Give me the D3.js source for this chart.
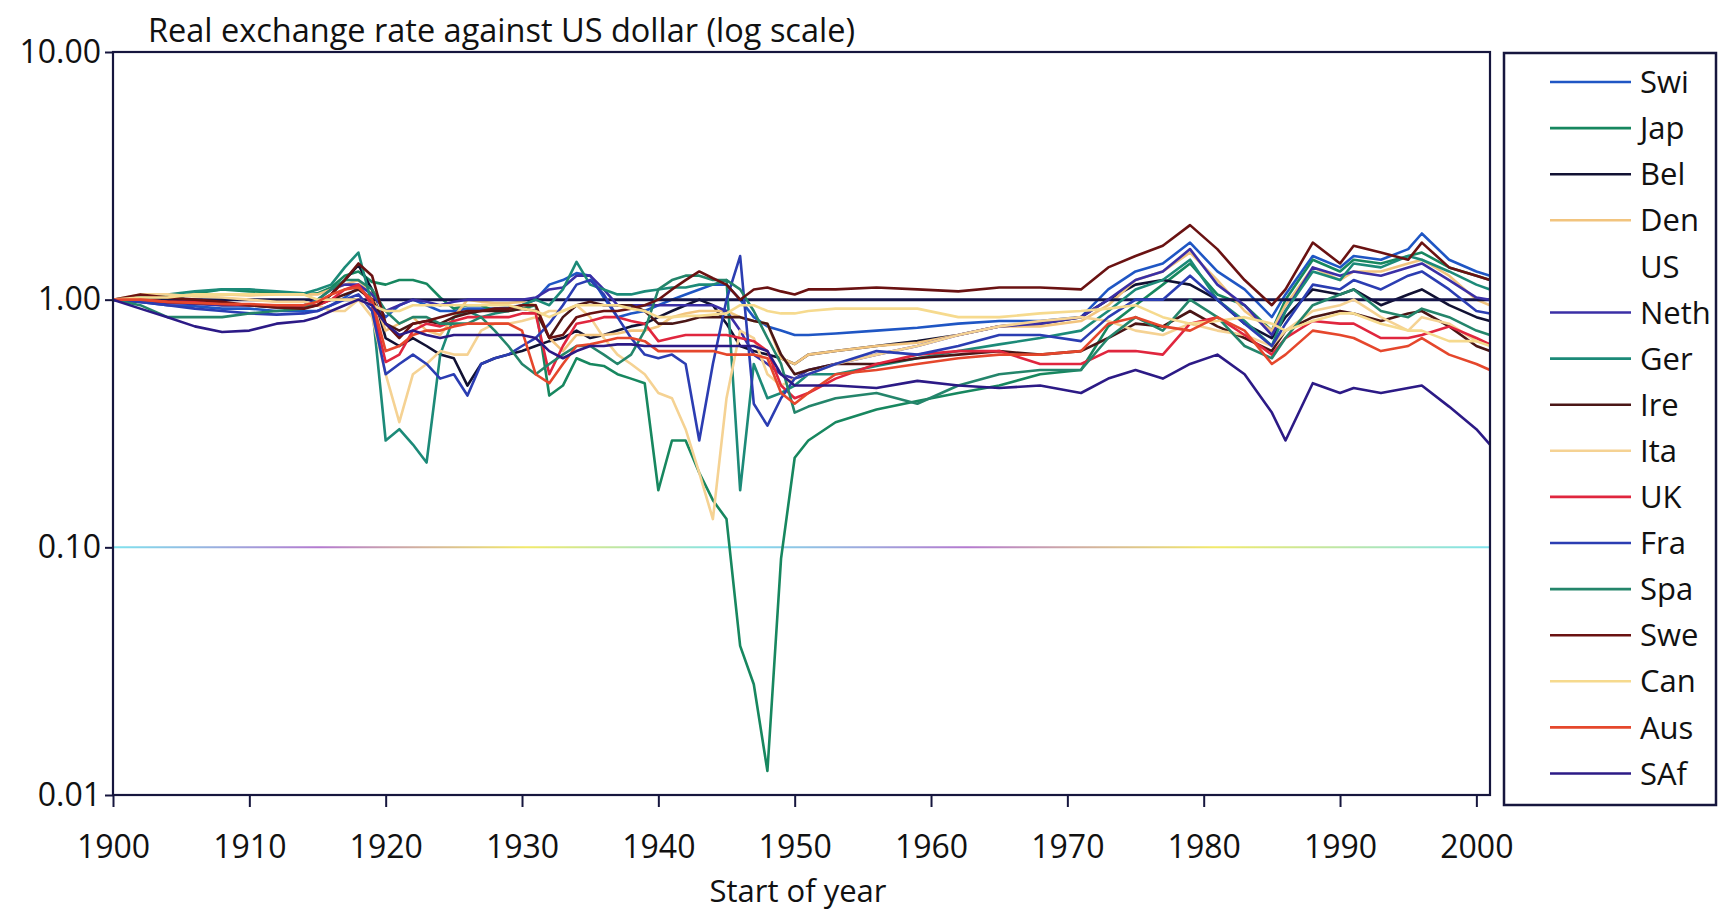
<!DOCTYPE html>
<html>
<head>
<meta charset="utf-8">
<script src="https://cdn.jsdelivr.net/npm/d3@7"></script>
<style>
  body { margin: 0; background: #fff; }
  svg { display: block; font-family: "Open Sans", "DejaVu Sans", sans-serif; }
</style>
</head>
<body>
<div id="chart"></div>
<script>
// Real exchange rates against the US dollar, start of year, 1900 = 1
var years = [
  1900, 1902, 1904, 1906, 1908, 1910, 1912, 1914,
  1915, 1916, 1917, 1918, 1919, 1920, 1921, 1922, 1923, 1924,
  1925, 1926, 1927, 1928, 1929, 1930, 1931, 1932, 1933, 1934,
  1935, 1936, 1937, 1938, 1939, 1940, 1941, 1942, 1943, 1944,
  1945, 1946, 1947, 1948, 1949, 1950, 1951,
  1953, 1956, 1959, 1962, 1965, 1968,
  1971, 1973, 1975, 1977, 1979, 1981, 1983, 1985, 1986, 1988,
  1990, 1991, 1993, 1995, 1996, 1998, 2000, 2001
];
var usYears = [1900, 2001];

var swi = [
  1.00, 0.98, 0.95, 0.94, 0.92, 0.92, 0.90, 0.90,
  0.90, 0.95, 1.02, 1.12, 1.00, 0.85, 0.95, 1.00, 0.95, 0.90,
  0.90, 0.92, 0.92, 0.92, 0.93, 0.95, 1.00, 1.15, 1.20, 1.28,
  1.25, 1.02, 0.85, 0.88, 0.90, 0.95, 1.00, 1.05, 1.10, 1.15,
  1.15, 1.00, 0.85, 0.78, 0.75, 0.72, 0.72,
  0.73, 0.75, 0.77, 0.80, 0.82, 0.82,
  0.85, 1.10, 1.30, 1.40, 1.70, 1.30, 1.10, 0.85, 1.05, 1.50,
  1.35, 1.50, 1.45, 1.60, 1.85, 1.45, 1.30, 1.25
];
var jap = [
  1.00, 1.02, 1.00, 1.06, 1.10, 1.08, 1.07, 1.05,
  1.06, 1.12, 1.25, 1.30, 1.18, 1.15, 1.20, 1.20, 1.16, 1.02,
  0.92, 0.95, 0.95, 0.90, 0.90, 0.92, 0.95, 0.41, 0.45, 0.58,
  0.55, 0.54, 0.50, 0.48, 0.46, 0.17, 0.27, 0.27, 0.20, 0.155,
  0.13, 0.04, 0.028, 0.0125, 0.09, 0.23, 0.27,
  0.32, 0.36, 0.39, 0.42, 0.45, 0.50,
  0.52, 0.78, 0.95, 1.15, 1.40, 1.05, 0.95, 0.75, 1.00, 1.45,
  1.30, 1.45, 1.40, 1.50, 1.55, 1.35, 1.25, 1.20
];
var bel = [
  1.00, 1.00, 0.98, 0.97, 0.95, 0.95, 0.93, 0.93,
  0.95, 1.05, 1.20, 1.38, 1.10, 0.70, 0.65, 0.70, 0.65, 0.60,
  0.58, 0.45, 0.55, 0.58, 0.60, 0.62, 0.65, 0.68, 0.70, 0.75,
  0.70, 0.72, 0.75, 0.78, 0.80, 0.85, 0.90, 0.95, 1.00, 0.95,
  0.80, 0.65, 0.62, 0.60, 0.58, 0.55, 0.60,
  0.62, 0.65, 0.68, 0.72, 0.78, 0.80,
  0.85, 1.00, 1.15, 1.20, 1.15, 1.00, 0.80, 0.70, 0.85, 1.10,
  1.05, 1.10, 0.95, 1.05, 1.10, 0.95, 0.85, 0.82
];
var den = [
  1.00, 1.02, 1.03, 1.05, 1.05, 1.04, 1.05, 1.05,
  1.05, 1.10, 1.15, 1.20, 1.05, 0.75, 0.80, 0.85, 0.75, 0.72,
  0.85, 1.00, 0.98, 0.97, 0.97, 0.98, 0.95, 0.70, 0.62, 0.72,
  0.72, 0.72, 0.73, 0.75, 0.75, 0.78, 0.85, 0.88, 0.90, 0.90,
  0.90, 0.85, 0.82, 0.80, 0.58, 0.55, 0.60,
  0.62, 0.65, 0.67, 0.72, 0.78, 0.78,
  0.82, 0.95, 1.20, 1.30, 1.55, 1.20, 0.90, 0.75, 0.95, 1.35,
  1.20, 1.30, 1.30, 1.40, 1.45, 1.25, 1.00, 0.95
];
var us = [1.00, 1.00];
var neth = [
  1.00, 0.98, 0.97, 0.96, 0.95, 0.95, 0.94, 0.95,
  1.00, 1.10, 1.15, 1.15, 1.05, 0.90, 0.95, 1.00, 0.98, 0.95,
  0.98, 1.00, 1.00, 1.00, 1.00, 1.00, 1.02, 1.10, 1.12, 1.25,
  1.25, 1.10, 0.95, 0.95, 0.95, 0.95, 0.95, 0.95, 0.95, 0.95,
  0.90, 0.75, 0.60, 0.55, 0.50, 0.48, 0.52,
  0.55, 0.60, 0.65, 0.72, 0.78, 0.80,
  0.85, 1.00, 1.20, 1.30, 1.60, 1.15, 0.95, 0.72, 0.90, 1.35,
  1.25, 1.30, 1.25, 1.35, 1.40, 1.20, 1.02, 1.00
];
var ger = [
  1.00, 1.03, 1.05, 1.08, 1.10, 1.10, 1.08, 1.06,
  1.10, 1.15, 1.35, 1.55, 0.95, 0.27, 0.30, 0.26, 0.22, 0.60,
  0.85, 0.90, 0.85, 0.88, 0.90, 0.95, 1.00, 0.95, 1.10, 1.42,
  1.15, 1.10, 1.05, 1.05, 1.08, 1.10, 1.12, 1.12, 1.15, 1.15,
  1.20, 0.17, 0.55, 0.40, 0.42, 0.45, 0.50,
  0.50, 0.54, 0.58, 0.62, 0.66, 0.70,
  0.75, 0.90, 1.10, 1.20, 1.45, 1.00, 0.82, 0.65, 0.90, 1.30,
  1.20, 1.40, 1.35, 1.50, 1.45, 1.30, 1.15, 1.10
];
var ire = [
  1.00, 1.00, 0.98, 0.97, 0.96, 0.95, 0.95, 0.95,
  0.95, 1.00, 1.05, 1.10, 1.00, 0.80, 0.75, 0.80, 0.82, 0.80,
  0.85, 0.88, 0.90, 0.90, 0.90, 0.92, 0.90, 0.70, 0.85, 0.95,
  0.98, 0.95, 0.95, 0.95, 0.90, 0.80, 0.80, 0.82, 0.85, 0.85,
  0.85, 0.85, 0.82, 0.80, 0.60, 0.50, 0.52,
  0.55, 0.55, 0.58, 0.60, 0.62, 0.60,
  0.62, 0.70, 0.80, 0.78, 0.90, 0.78, 0.70, 0.62, 0.75, 0.85,
  0.90, 0.88, 0.82, 0.88, 0.90, 0.78, 0.65, 0.62
];
var ita = [
  1.00, 1.05, 1.05, 1.03, 1.02, 1.00, 0.98, 0.98,
  0.95, 0.90, 0.90, 1.00, 0.85, 0.50, 0.32, 0.50, 0.55, 0.62,
  0.60, 0.60, 0.75, 0.80, 0.80, 0.82, 0.85, 0.90, 0.90, 0.95,
  0.85, 0.70, 0.60, 0.55, 0.50, 0.42, 0.40, 0.30, 0.20, 0.13,
  0.40, 0.75, 0.70, 0.50, 0.45, 0.48, 0.50,
  0.55, 0.60, 0.65, 0.72, 0.78, 0.82,
  0.85, 0.82, 0.75, 0.72, 0.80, 0.75, 0.72, 0.65, 0.75, 0.90,
  0.95, 1.00, 0.85, 0.75, 0.85, 0.80, 0.68, 0.66
];
var uk = [
  1.00, 1.00, 0.98, 0.98, 0.96, 0.95, 0.95, 0.95,
  0.95, 1.00, 1.10, 1.15, 0.95, 0.56, 0.60, 0.75, 0.80, 0.78,
  0.82, 0.85, 0.85, 0.85, 0.85, 0.88, 0.88, 0.50, 0.65, 0.80,
  0.82, 0.85, 0.85, 0.82, 0.80, 0.68, 0.70, 0.72, 0.72, 0.72,
  0.72, 0.70, 0.68, 0.62, 0.45, 0.40, 0.42,
  0.48, 0.55, 0.60, 0.62, 0.62, 0.55,
  0.55, 0.62, 0.62, 0.60, 0.80, 0.85, 0.72, 0.60, 0.70, 0.82,
  0.80, 0.80, 0.70, 0.70, 0.72, 0.78, 0.70, 0.66
];
var fra = [
  1.00, 0.98, 0.95, 0.92, 0.90, 0.88, 0.87, 0.88,
  0.90, 0.95, 1.00, 1.05, 0.90, 0.50, 0.55, 0.60, 0.55, 0.48,
  0.50, 0.41, 0.55, 0.58, 0.60, 0.65, 0.70, 0.80, 0.95, 1.15,
  1.20, 1.05, 0.85, 0.70, 0.60, 0.58, 0.60, 0.55, 0.27, 0.55,
  1.00, 1.50, 0.38, 0.31, 0.40, 0.48, 0.50,
  0.55, 0.62, 0.60, 0.65, 0.72, 0.72,
  0.68, 0.85, 1.00, 1.00, 1.25, 1.00, 0.80, 0.65, 0.80, 1.15,
  1.10, 1.20, 1.10, 1.25, 1.30, 1.10, 0.90, 0.88
];
var spa = [
  1.00, 0.95, 0.85, 0.85, 0.85, 0.88, 0.90, 0.92,
  1.00, 1.10, 1.20, 1.20, 1.10, 0.90, 0.80, 0.85, 0.85, 0.80,
  0.80, 0.80, 0.85, 0.75, 0.65, 0.55, 0.50, 0.55, 0.60, 0.65,
  0.65, 0.60, 0.55, 0.60, 0.75, 1.10, 1.20, 1.25, 1.25, 1.20,
  1.20, 1.10, 0.90, 0.70, 0.55, 0.35, 0.37,
  0.40, 0.42, 0.38, 0.45, 0.50, 0.52,
  0.52, 0.70, 0.85, 0.75, 1.00, 0.85, 0.65, 0.58, 0.70, 0.95,
  1.05, 1.10, 0.90, 0.85, 0.92, 0.85, 0.75, 0.72
];
var swe = [
  1.00, 1.05, 1.02, 1.00, 0.98, 0.95, 0.93, 0.92,
  0.95, 1.05, 1.20, 1.40, 1.25, 0.80, 0.70, 0.80, 0.82, 0.85,
  0.88, 0.90, 0.90, 0.92, 0.92, 0.95, 0.95, 0.70, 0.72, 0.85,
  0.88, 0.90, 0.90, 0.92, 0.95, 1.00, 1.10, 1.20, 1.30, 1.22,
  1.15, 1.00, 1.10, 1.12, 1.08, 1.05, 1.10,
  1.10, 1.12, 1.10, 1.08, 1.12, 1.12,
  1.10, 1.35, 1.50, 1.65, 2.00, 1.60, 1.20, 0.95, 1.10, 1.70,
  1.40, 1.65, 1.55, 1.45, 1.70, 1.35, 1.25, 1.20
];
var can = [
  1.00, 1.02, 1.02, 1.05, 1.05, 1.05, 1.05, 1.05,
  1.00, 1.00, 1.00, 1.00, 0.95, 0.90, 0.90, 0.95, 0.95, 0.95,
  0.95, 0.95, 0.95, 0.95, 0.95, 0.92, 0.90, 0.85, 0.90, 0.95,
  0.95, 0.95, 0.95, 0.92, 0.90, 0.85, 0.85, 0.86, 0.86, 0.87,
  0.88, 0.95, 0.95, 0.90, 0.88, 0.88, 0.90,
  0.92, 0.92, 0.92, 0.85, 0.85, 0.88,
  0.90, 0.92, 0.95, 0.85, 0.80, 0.82, 0.85, 0.80, 0.75, 0.82,
  0.88, 0.88, 0.80, 0.75, 0.75, 0.68, 0.68, 0.65
];
var aus = [
  1.00, 1.00, 0.98, 0.97, 0.96, 0.96, 0.95, 0.95,
  0.98, 1.05, 1.10, 1.12, 1.00, 0.62, 0.65, 0.72, 0.75, 0.75,
  0.78, 0.80, 0.80, 0.80, 0.80, 0.75, 0.50, 0.46, 0.55, 0.65,
  0.66, 0.68, 0.70, 0.70, 0.68, 0.62, 0.62, 0.62, 0.62, 0.62,
  0.60, 0.60, 0.60, 0.58, 0.42, 0.38, 0.42,
  0.50, 0.52, 0.55, 0.58, 0.60, 0.60,
  0.62, 0.80, 0.85, 0.78, 0.75, 0.85, 0.75, 0.55, 0.60, 0.75,
  0.72, 0.70, 0.62, 0.65, 0.70, 0.60, 0.55, 0.52
];
var saf = [
  1.00, 0.92, 0.85, 0.78, 0.74, 0.75, 0.80, 0.82,
  0.85, 0.90, 0.95, 1.00, 0.95, 0.80, 0.72, 0.75, 0.72, 0.70,
  0.72, 0.72, 0.72, 0.72, 0.72, 0.72, 0.70, 0.62, 0.58, 0.62,
  0.65, 0.65, 0.66, 0.66, 0.65, 0.65, 0.65, 0.65, 0.65, 0.65,
  0.65, 0.65, 0.65, 0.62, 0.50, 0.45, 0.45,
  0.45, 0.44, 0.47, 0.45, 0.44, 0.45,
  0.42, 0.48, 0.52, 0.48, 0.55, 0.60, 0.50, 0.35, 0.27, 0.46,
  0.42, 0.44, 0.42, 0.44, 0.45, 0.37, 0.30, 0.26
];

var seriesNames = ["Swi", "Jap", "Bel", "Den", "US", "Neth", "Ger", "Ire",
                   "Ita", "UK", "Fra", "Spa", "Swe", "Can", "Aus", "SAf"];
var seriesValues = [swi, jap, bel, den, us, neth, ger, ire,
                    ita, uk, fra, spa, swe, can, aus, saf];
var seriesColors = ["#1f56c4", "#17875f", "#111133", "#f2c47e", "#15154a", "#3b2fa6",
                    "#1c8a78", "#4a1616", "#f5d293", "#e0263e", "#2b3db2", "#24856b",
                    "#6a1212", "#f6da8e", "#e5472c", "#2c1a86"];

var yTicks = [0.01, 0.1, 1, 10];
var xTicks = [1900, 1910, 1920, 1930, 1940, 1950, 1960, 1970, 1980, 1990, 2000];

// layout of the page
var margin = { top: 52, right: 234, bottom: 121, left: 113 },
    width = 1724 - margin.left - margin.right,
    height = 916 - margin.top - margin.bottom;

var svg = d3.select("#chart").append("svg")
    .attr("width", 1724)
    .attr("height", 916);

var g = svg.append("g")
    .attr("transform", "translate(" + margin.left + "," + margin.top + ")");

var x = d3.scaleLinear().domain([1900, 2001]).range([0, width]);
var y = d3.scaleLog().domain([0.01, 10]).range([height, 0]);

// gridline at 0.10, the scan makes it a faint rainbow
var grad = svg.append("defs").append("linearGradient")
    .attr("id", "scanline")
    .attr("gradientUnits", "userSpaceOnUse")
    .attr("x1", 0).attr("x2", width).attr("y1", 0).attr("y2", 0);
[["0", "#7fe3ee"], ["0.15", "#b47ad0"], ["0.3", "#f2ea6a"], ["0.45", "#7fe3ee"],
 ["0.62", "#b47ad0"], ["0.8", "#f2ea6a"], ["1", "#7fe3ee"]].forEach(function(s) {
  grad.append("stop").attr("offset", s[0]).attr("stop-color", s[1]);
});

g.append("line")
    .attr("x1", 0).attr("x2", width)
    .attr("y1", y(0.1)).attr("y2", y(0.1))
    .attr("stroke", "url(#scanline)")
    .attr("stroke-width", 2);

// series lines
var line = d3.line()
    .x(function(d) { return x(d[0]); })
    .y(function(d) { return y(d[1]); });

var series = seriesNames.map(function(name, i) {
  var xs = name === "US" ? usYears : years;
  return { name: name, color: seriesColors[i],
           points: seriesValues[i].map(function(v, j) { return [xs[j], v]; }) };
});

g.selectAll(".series")
    .data(series)
    .enter()
    .append("path")
    .attr("class", "series")
    .attr("fill", "none")
    .attr("stroke", function(d) { return d.color; })
    .attr("stroke-width", function(d) { return d.name === "US" ? 3 : 2.6; })
    .attr("stroke-linejoin", "round")
    .attr("d", function(d) { return line(d.points); });

// frame
g.append("rect")
    .attr("width", width).attr("height", height)
    .attr("fill", "none")
    .attr("stroke", "#16163e")
    .attr("stroke-width", 2.2);

// axes
var xAxis = g.append("g")
    .attr("transform", "translate(0," + height + ")")
    .call(d3.axisBottom(x).tickValues(xTicks).tickFormat(d3.format("d"))
          .tickSize(12).tickPadding(28));
var yAxis = g.append("g")
    .call(d3.axisLeft(y).tickValues(yTicks).tickFormat(d3.format(".2f"))
          .tickSize(8).tickPadding(4));

[xAxis, yAxis].forEach(function(ax) {
  ax.select(".domain").remove();
  ax.selectAll("line").attr("stroke", "#16163e").attr("stroke-width", 2);
  ax.selectAll("text")
      .attr("fill", "#111")
      .style("font-size", "32px")
      .style("font-family", "'Open Sans', sans-serif");
});

// titles
svg.append("text")
    .attr("x", 148).attr("y", 42)
    .attr("textLength", 707)
    .attr("lengthAdjust", "spacingAndGlyphs")
    .style("font-size", "32px")
    .attr("fill", "#111")
    .text("Real exchange rate against US dollar (log scale)");

svg.append("text")
    .attr("x", 798).attr("y", 902)
    .attr("text-anchor", "middle")
    .style("font-size", "31px")
    .attr("fill", "#111")
    .text("Start of year");

// legend
var legend = svg.append("g").attr("transform", "translate(1504,53)");
legend.append("rect")
    .attr("width", 212).attr("height", 752)
    .attr("fill", "#fff")
    .attr("stroke", "#16163e")
    .attr("stroke-width", 2.5);

var rows = legend.selectAll(".row")
    .data(series)
    .enter()
    .append("g")
    .attr("class", "row")
    .attr("transform", function(d, i) { return "translate(0," + (29 + i * 46.1) + ")"; });

rows.filter(function(d) { return d.name !== "US"; })
    .append("line")
    .attr("x1", 46).attr("x2", 127)
    .attr("stroke", function(d) { return d.color; })
    .attr("stroke-width", 2.6);

rows.append("text")
    .attr("x", 136)
    .attr("dy", "0.36em")
    .style("font-size", "31px")
    .attr("fill", "#111")
    .text(function(d) { return d.name; });
</script>
</body>
</html>
